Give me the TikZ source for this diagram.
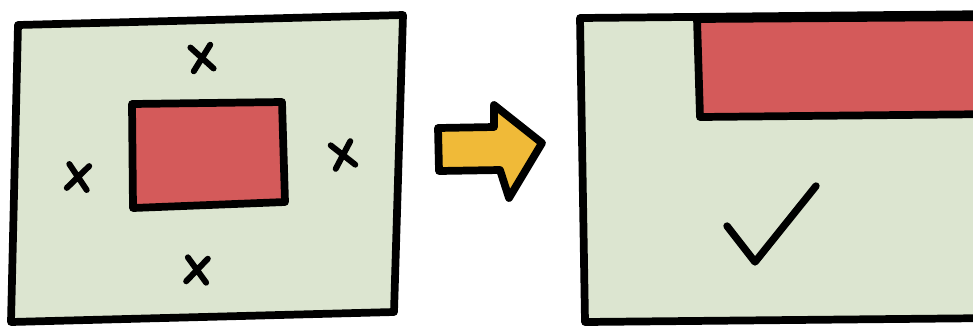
\documentclass[tikz,border=0pt]{standalone}
\usepackage{xcolor}
\usepackage{tikz}
\usetikzlibrary{calc}

\definecolor{panelgreen}{HTML}{DCE5D0}
\definecolor{blockred}{HTML}{D45A5A}
\definecolor{arrowyellow}{HTML}{F0BA38}

\begin{document}
\begin{tikzpicture}[x=0.02cm, y=-0.02cm, line join=round, line cap=round,
  sketch/.style={draw=black, line width=4.4pt},
  crossline/.style={draw=black, line width=3.4pt},
  tickline/.style={draw=black, line width=4.2pt}]
% Two panels: block in the middle (bad) vs block against the top edge (good)
\useasboundingbox (0,0) rectangle (973,326);
\clip (0,0) rectangle (973,326);

% left panel
\filldraw[sketch, fill=panelgreen] (18,25) -- (403,15) -- (394,312) -- (11,322) -- cycle;
\filldraw[sketch, fill=blockred] (132,104) -- (282,102) -- (285,202) -- (133,208) -- cycle;
\foreach \cx/\cy/\r in {202/58/8, 78/177/-6, 343/155/12, 197/270/-4}
  \draw[crossline, rotate around={\r:(\cx,\cy)}]
    ({\cx-10},{\cy-12}) -- ({\cx+10},{\cy+12}) ({\cx+10},{\cy-12}) -- ({\cx-10},{\cy+12});

% arrow between the panels
\filldraw[sketch, fill=arrowyellow] (438,128) -- (494,127) -- (494,105) -- (542,143)
  -- (509,198) -- (500,170) -- (439,171) -- cycle;

% right panel
\filldraw[sketch, fill=panelgreen] (580,18) -- (1000,14) -- (1000,318) -- (585,322) -- cycle;
\filldraw[sketch, fill=blockred] (697,19) -- (1000,17) -- (1000,114) -- (700,117) -- cycle;
\draw[tickline] (727,226) -- (755,262) -- (816,186);
\end{tikzpicture}
\end{document}
